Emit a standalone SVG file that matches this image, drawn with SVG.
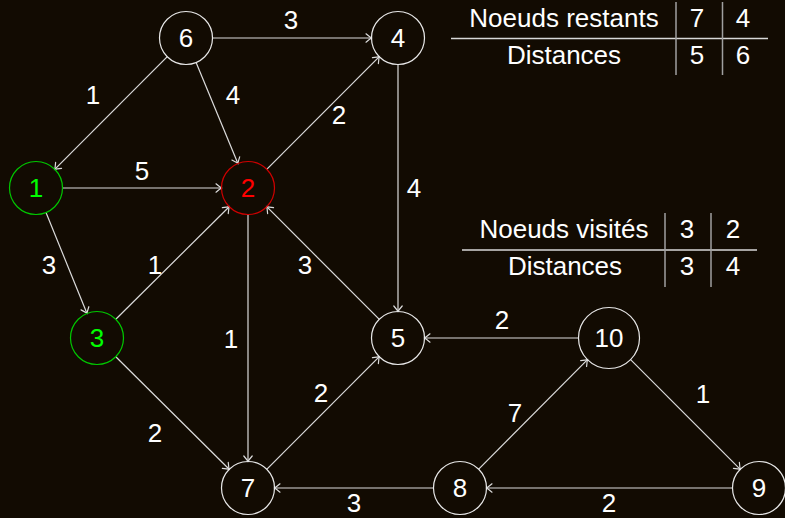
<svg xmlns="http://www.w3.org/2000/svg" width="785" height="518" viewBox="0 0 785 518">
<style>
.bg{fill:#120b02}
.node{fill:none;stroke:#e8e8e8;stroke-width:1.2}
.t{font-family:"Liberation Sans",Arial,sans-serif;font-size:26px;fill:#ffffff;text-anchor:middle}
.edge{stroke:#dcdcdc;stroke-width:1.2;fill:none;marker-end:url(#arr)}
.tab{stroke:#a0a0a0;stroke-width:1.5}
.tabh{stroke:#d8d8d8;stroke-width:1.5}
</style>
<defs>
<marker id="arr" markerUnits="userSpaceOnUse" viewBox="-7 -6 9 12" refX="0" refY="0" markerWidth="9" markerHeight="12" orient="auto" overflow="visible">
<path d="M-5.5,-4.2 Q-1.6,-0.9 0,0 Q-1.6,0.9 -5.5,4.2" fill="none" stroke="#dcdcdc" stroke-width="1.2" stroke-linecap="round"/>
</marker>
</defs>
<rect class="bg" x="0" y="0" width="785" height="518"/>
<g id="connectors">
<line class="edge" x1="212.5" y1="38" x2="371.5" y2="38"/>
<line class="edge" x1="167.3" y1="56.7" x2="54.7" y2="169.3"/>
<line class="edge" x1="196.1" y1="62.5" x2="237.9" y2="163.5"/>
<line class="edge" x1="62.5" y1="188" x2="221.5" y2="188"/>
<line class="edge" x1="266.7" y1="169.3" x2="379.3" y2="56.7"/>
<line class="edge" x1="398" y1="64.5" x2="398" y2="311.5"/>
<line class="edge" x1="46" y1="212.6" x2="87" y2="313.4"/>
<line class="edge" x1="115.8" y1="319.3" x2="229.2" y2="206.7"/>
<line class="edge" x1="379.3" y1="319.3" x2="266.7" y2="206.7"/>
<line class="edge" x1="248" y1="214.5" x2="248" y2="461.5"/>
<line class="edge" x1="115.8" y1="356.7" x2="229.2" y2="469.3"/>
<line class="edge" x1="266.7" y1="469.3" x2="379.3" y2="356.7"/>
<line class="edge" x1="578.5" y1="338" x2="424.5" y2="338"/>
<line class="edge" x1="478.7" y1="469.2" x2="587.5" y2="359.6"/>
<line class="edge" x1="630.6" y1="359.6" x2="740.3" y2="469.3"/>
<line class="edge" x1="433.5" y1="488" x2="274.5" y2="488"/>
<line class="edge" x1="732.5" y1="488" x2="486.5" y2="488"/>
<g id="edge-labels">
<text class="t" x="291" y="29">3</text>
<text class="t" x="93" y="104">1</text>
<text class="t" x="233" y="104">4</text>
<text class="t" x="142" y="180">5</text>
<text class="t" x="339" y="124">2</text>
<text class="t" x="414" y="197">4</text>
<text class="t" x="49" y="274">3</text>
<text class="t" x="155" y="274">1</text>
<text class="t" x="305" y="274">3</text>
<text class="t" x="231" y="348">1</text>
<text class="t" x="502" y="329">2</text>
<text class="t" x="321" y="402">2</text>
<text class="t" x="515" y="422">7</text>
<text class="t" x="703" y="403">1</text>
<text class="t" x="155" y="442">2</text>
<text class="t" x="354" y="512">3</text>
<text class="t" x="609" y="512">2</text>
</g>
</g>
<g id="n6"><circle class="node" cx="186" cy="38" r="26.5"/><text class="t" x="186" y="47">6</text></g>
<g id="n4"><circle class="node" cx="398" cy="38" r="26.5"/><text class="t" x="398" y="47">4</text></g>
<g id="n1"><circle cx="36" cy="188" r="26.5" fill="none" stroke="#00c800" stroke-width="1.2"/><text class="t" x="36" y="197" style="fill:#00ff00">1</text></g>
<g id="n2"><circle cx="248" cy="188" r="26.5" fill="none" stroke="#d00000" stroke-width="1.2"/><text class="t" x="248" y="197" style="fill:#ff0000">2</text></g>
<g id="n3"><circle cx="97" cy="338" r="26.5" fill="none" stroke="#00c800" stroke-width="1.2"/><text class="t" x="97" y="347" style="fill:#00ff00">3</text></g>
<g id="n5"><circle class="node" cx="398" cy="338" r="26.5"/><text class="t" x="398" y="347">5</text></g>
<g id="n10"><circle class="node" cx="609" cy="338" r="30.5"/><text class="t" x="609" y="347">10</text></g>
<g id="n7"><circle class="node" cx="248" cy="488" r="26.5"/><text class="t" x="248" y="497">7</text></g>
<g id="n8"><circle class="node" cx="460" cy="488" r="26.5"/><text class="t" x="460" y="497">8</text></g>
<g id="n9"><circle class="node" cx="759" cy="488" r="26.5"/><text class="t" x="759" y="497">9</text></g>
<g id="table-restants">
<line class="tabh" x1="451" y1="38.5" x2="768" y2="38.5"/>
<line class="tab" x1="676" y1="2" x2="676" y2="75"/>
<line class="tab" x1="722.5" y1="2" x2="722.5" y2="75"/>
<text class="t" x="564" y="27">Noeuds restants</text>
<text class="t" x="697" y="27">7</text>
<text class="t" x="743" y="27">4</text>
<text class="t" x="564" y="64">Distances</text>
<text class="t" x="697" y="64">5</text>
<text class="t" x="743" y="64">6</text>
</g>
<g id="table-visites">
<line class="tabh" x1="462" y1="250" x2="757" y2="250"/>
<line class="tab" x1="665" y1="213" x2="665" y2="287"/>
<line class="tab" x1="711" y1="213" x2="711" y2="287"/>
<text class="t" x="564" y="238">Noeuds visités</text>
<text class="t" x="687" y="238">3</text>
<text class="t" x="733" y="238">2</text>
<text class="t" x="565" y="275">Distances</text>
<text class="t" x="687" y="275">3</text>
<text class="t" x="733" y="275">4</text>
</g>
</svg>
